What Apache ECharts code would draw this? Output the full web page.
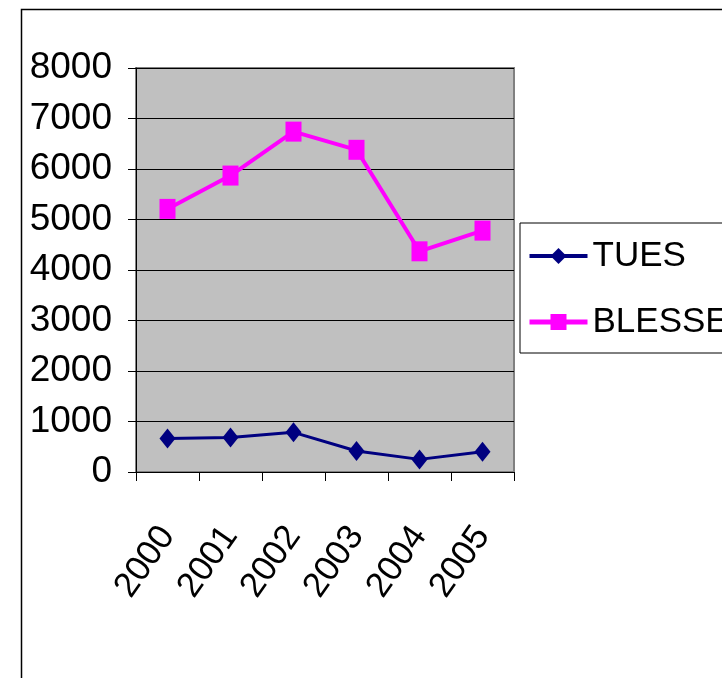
<!DOCTYPE html>
<html><head><meta charset="utf-8">
<script src="https://cdn.jsdelivr.net/npm/echarts@6/dist/echarts.min.js"></script>
<style>html,body{margin:0;padding:0;background:#fff}#c{width:722px;height:678px}</style>
</head><body><div id="c"></div>
<script>
const categories = ['2000','2001','2002','2003','2004','2005'];
const tues = [665, 685, 785, 415, 250, 400];
const blesses = [5210, 5870, 6740, 6380, 4370, 4780];
const yTicks = [0, 1000, 2000, 3000, 4000, 5000, 6000, 7000, 8000];

const FONT = "'Liberation Sans',Arial,sans-serif";
const chart = echarts.init(document.getElementById('c'));
chart.setOption({
  backgroundColor: '#fff',
  animation: false,
  graphic: [{
    type: 'rect', left: 19, top: 7,
    shape: { width: 740, height: 700 },
    style: { fill: 'none', stroke: '#000', lineWidth: 1.5 }, z: -1
  }],
  grid: {
    left: 136, top: 68, width: 378, height: 404,
    show: true, backgroundColor: '#C0C0C0', borderColor: '#808080', borderWidth: 2
  },
  legend: {
    orient: 'vertical', left: 520, top: 223,
    padding: [13, 40, 11, 7],
    borderColor: '#000', borderWidth: 1, backgroundColor: '#fff',
    itemWidth: 58, itemHeight: 20, itemGap: 26,
    textStyle: { fontSize: 35, lineHeight: 40, color: '#000', fontFamily: FONT },
    data: [
      { name: 'TUES', lineStyle: { width: 4, color: '#000080' } },
      { name: 'BLESSES', lineStyle: { width: 5, color: '#FF00FF' } }
    ]
  },
  xAxis: {
    type: 'category', data: categories, boundaryGap: true,
    axisLine: { show: true, lineStyle: { color: '#000', width: 1 } },
    axisTick: { show: true, length: 9, lineStyle: { color: '#000' } },
    axisLabel: { interval: 0, rotate: 55, margin: 58, fontSize: 35, color: '#000', fontFamily: FONT }
  },
  yAxis: {
    type: 'value', min: yTicks[0], max: yTicks[yTicks.length - 1], interval: 1000,
    axisLine: { show: true, lineStyle: { color: '#000', width: 1 } },
    axisTick: { show: true, length: 8, lineStyle: { color: '#000' } },
    axisLabel: { margin: 24, fontSize: 37, color: '#000', fontFamily: FONT, formatter: v => String(v) },
    splitLine: { show: true, lineStyle: { color: '#000', width: 1 } }
  },
  series: [
    {
      name: 'TUES', type: 'line', data: tues,
      symbol: 'diamond', symbolSize: [16, 20],
      lineStyle: { color: '#000080', width: 3 },
      itemStyle: { color: '#000080' }
    },
    {
      name: 'BLESSES', type: 'line', data: blesses,
      symbol: 'rect', symbolSize: [16, 20],
      lineStyle: { color: '#FF00FF', width: 4 },
      itemStyle: { color: '#FF00FF' }
    }
  ]
});
</script></body></html>
